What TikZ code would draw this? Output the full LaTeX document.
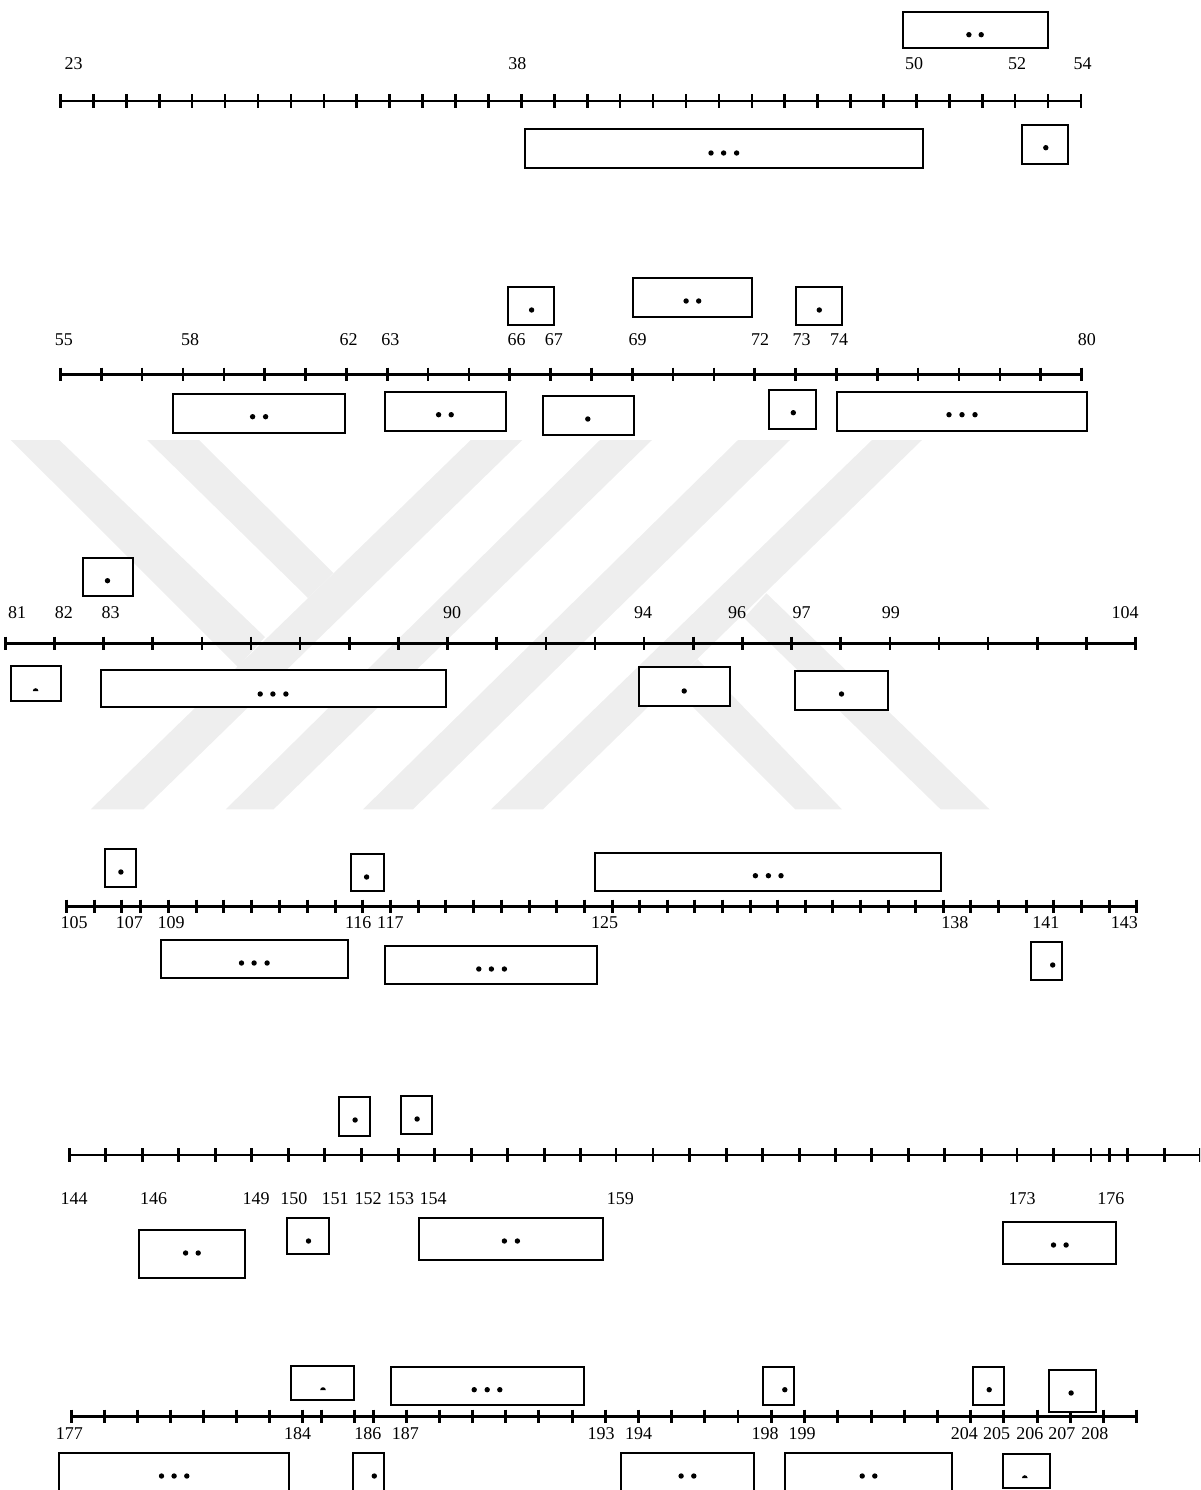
\documentclass[tikz,border=0pt]{standalone}
\usepackage{fontspec}
\setmainfont{Liberation Serif}
\definecolor{markgray}{HTML}{EEEEEE}
\newcommand{\zx}{2.6133}
% ruler: regular ticks
\newcommand{\regrule}[6]{% name, y, x0, step, count, right end
  \coordinate (#1s) at (#3,#2);
  \coordinate (#1e) at (#6,#2);
  \draw[rulerline] (#1s) -- (#1e);
  \foreach \i in {0,...,#5}{\draw[tickline] ({#3+#4*\i},{#2-6.8}) -- ({#3+#4*\i},{#2+6.8});}
}
% ticks read as zoom positions
\newcommand{\tickset}[3]{% y, x offset, list
  \foreach \t in {#3}{\draw[tickline] ({#2+\t/\zx},{#1-6.8}) -- ({#2+\t/\zx},{#1+6.8});}
}
\newcommand{\cell}[5]{% name, x1,y1,x2,y2
  \path[cellline] (#2,#3) rectangle (#4,#5);
  \coordinate (#1) at ({(#2+#4)/2},{(#3+#5)/2});
}
\newcommand{\spot}[2]{\fill (#1,#2) circle[radius=2.7];}
\newcommand{\dome}[2]{\fill ({#1-2.8},#2) arc[start angle=180,end angle=360,radius=2.8] -- cycle;}
\newcommand{\lab}[3]{\node[numlabel] (n#3) at (#1,#2) {#3};}
\begin{document}
\begin{tikzpicture}[x=1pt,y=-1pt,
  rulerline/.style={line width=2.9pt,black},
  tickline/.style={line width=2.6pt,black},
  cellline/.style={draw=black,fill=white,line width=2pt},
  numlabel/.style={font=\fontsize{18}{20}\selectfont,inner sep=0pt,text=black}]
\useasboundingbox (0,0) rectangle (1200,1490);
\clip (0,0) rectangle (1200,1490);
% watermark
\fill[markgray] (470.7,440)--(522.4,440)--(143.5,809.3)--(90.7,809.3)--cycle;
\fill[markgray] (600,440)--(652,440)--(273.6,809.3)--(225.8,809.3)--cycle;
\fill[markgray] (738,440)--(790,440)--(413,809.3)--(363,809.3)--cycle;
\fill[markgray] (872,440)--(922,440)--(543,809.3)--(491,809.3)--cycle;
\fill[markgray] (10.7,440)--(59.3,440)--(265,637)--(238,667)--cycle;
\fill[markgray] (147,440)--(199,440)--(333.5,573)--(308,598)--cycle;
\fill[markgray] (766.5,593.3)--(989.6,809.3)--(940.6,809.3)--(744,618)--cycle;
\fill[markgray] (697.6,659.3)--(841.9,809.3)--(795.2,809.3)--(670.7,684.8)--cycle;
% rulers
\regrule{ra}{101}{60.5}{32.92}{31}{1081}
\regrule{rb}{374.3}{60.5}{40.84}{25}{1081}
\regrule{rc}{643.3}{5.3}{49.14}{23}{1136.5}
\coordinate (rds) at (66.6,906.3);\coordinate (rde) at (1136.5,906.3);
\draw[rulerline] (rds) -- (rde);
\tickset{906.3}{0}{174,247,317,367,440,513,584,657,730,804,877,947,1021,1094,1164,1237,1311,1384,1454,1527}
\tickset{906.3}{600}{33,103,176,247,320,393,464,537,608,681,754,825,897,968,1041,1115,1185,1258,1332,1402}
\coordinate (res) at (69.6,1155);\coordinate (ree) at (1200,1155);
\draw[rulerline] (res) -- (ree);
\tickset{1155}{0}{182,276,372,466,563,657,754,848,945,1041,1135,1232,1326,1423,1517}
\tickset{1155}{600}{42,139,234,331,425,521,615,710,806,900,997,1090,1185,1283,1332,1378,1475,1568}
\coordinate (rfs) at (71.6,1416.3);\coordinate (rfe) at (1136.5,1416.3);
\draw[rulerline] (rfs) -- (rfe);
\tickset{1416.3}{0}{187,273,359,445,532,618,704,790,840,926,976,1062,1148,1235,1321,1407,1496}
\tickset{1416.3}{600}{14,101,187,273,361,448,534,621,710,796,882,968,1054,1143,1230,1316,1402}
% labels
\lab{73.5}{64}{23}\lab{517.4}{64}{38}\lab{914.2}{64}{50}\lab{1017}{64}{52}\lab{1082.6}{64}{54}
\lab{63.9}{339.3}{55}\lab{190.2}{339.3}{58}\lab{348.6}{339.3}{62}\lab{390.4}{339.3}{63}\lab{516.6}{339.3}{66}\lab{553.8}{339.3}{67}\lab{637.5}{339.3}{69}\lab{760}{339.3}{72}\lab{801.7}{339.3}{73}\lab{839.2}{339.3}{74}\lab{1086.8}{339.3}{80}
\lab{17.2}{612.3}{81}\lab{63.9}{612.3}{82}\lab{110.6}{612.3}{83}\lab{452}{612.3}{90}\lab{643.2}{612.3}{94}\lab{737}{612.3}{96}\lab{801.7}{612.3}{97}\lab{890.9}{612.3}{99}\lab{1125}{612.3}{104}
\lab{74.2}{923}{105}\lab{129.4}{923}{107}\lab{171}{923}{109}\lab{358.2}{923}{116}\lab{390.4}{923}{117}\lab{604.5}{923}{125}\lab{954.8}{923}{138}\lab{1045.8}{923}{141}\lab{1124.3}{923}{143}
\lab{74.2}{1198.3}{144}\lab{153.5}{1198.3}{146}\lab{256}{1198.3}{149}\lab{293.9}{1198.3}{150}\lab{335.2}{1198.3}{151}\lab{368.2}{1198.3}{152}\lab{400.7}{1198.3}{153}\lab{433.2}{1198.3}{154}\lab{620.3}{1198.3}{159}\lab{1022}{1198.3}{173}\lab{1110.9}{1198.3}{176}
\lab{69.3}{1433.3}{177}\lab{297.7}{1433.3}{184}\lab{367.8}{1433.3}{186}\lab{405.3}{1433.3}{187}\lab{601}{1433.3}{193}\lab{638.7}{1433.3}{194}\lab{765}{1433.3}{198}\lab{802}{1433.3}{199}\lab{964.3}{1433.3}{204}\lab{996.5}{1433.3}{205}\lab{1029.8}{1433.3}{206}\lab{1061.9}{1433.3}{207}\lab{1094.8}{1433.3}{208}
% cells, row 1
\cell{a1}{903.1}{11.7}{1047.8}{48.3}\spot{968.9}{34.7}\spot{981.2}{34.7}
\cell{a2}{525.4}{129.3}{922.6}{167.7}\spot{711}{153}\spot{723.6}{153}\spot{736.6}{153}
\cell{a3}{1021.7}{125.3}{1067.7}{164}\spot{1045.8}{147.7}
% row 2
\cell{b1}{507.8}{286.7}{553.8}{325}\spot{531.6}{310}
\cell{b2}{633.3}{278.3}{751.9}{316.7}\spot{686.1}{301}\spot{698.7}{301}
\cell{b3}{795.6}{286.7}{841.9}{325.3}\spot{819.3}{310}
\cell{b4}{173.4}{394.3}{345.2}{432.7}\spot{252.6}{416.7}\spot{265.6}{416.7}
\cell{b5}{384.6}{392.3}{505.5}{430.7}\spot{438.6}{414.7}\spot{451.2}{414.7}
\cell{b6}{543}{396.3}{633.7}{434.7}\spot{587.8}{419}
\cell{b7}{769.2}{390}{815.8}{428.7}\spot{793.3}{412.7}
\cell{b8}{837.3}{392.3}{1087.2}{430.7}\spot{949}{414.7}\spot{962}{414.7}\spot{975}{414.7}
% row 3
\cell{c1}{82.7}{558}{133.2}{596.3}\spot{107.5}{580.7}
\cell{c2}{10.7}{666.3}{61.2}{700.7}\dome{35.6}{691}
\cell{c3}{100.6}{670.3}{445.5}{706.7}\spot{260.2}{694}\spot{272.9}{694}\spot{285.9}{694}
\cell{c4}{639}{667.3}{729.7}{706}\spot{684.2}{691}
\cell{c5}{795.2}{671.3}{887.8}{710}\spot{841.5}{694}
% row 4
\cell{d1}{104.9}{848.7}{135.5}{887.3}\spot{120.9}{872}
\cell{d2}{351.3}{853.7}{383.8}{890.7}\spot{366.6}{877}
\cell{d3}{595.1}{852.7}{941.4}{891.3}\spot{755.4}{875.7}\spot{768.4}{875.7}\spot{781}{875.7}
\cell{d4}{161.1}{939.7}{347.5}{978}\spot{241.5}{963}\spot{254.1}{963}\spot{267.1}{963}
\cell{d5}{385}{946}{597.4}{984.3}\spot{478.8}{969}\spot{491.4}{969}\spot{504.4}{969}
\cell{d6}{1031.3}{941.7}{1062.3}{980.3}\spot{1052.7}{965}
% row 5
\cell{e1}{338.7}{1097}{369.7}{1135.7}\spot{355.1}{1120}
\cell{e2}{401.1}{1095.7}{432.1}{1134}\spot{417.1}{1119}
\cell{e3}{138.9}{1229.7}{245.3}{1277.7}\spot{185.6}{1253}\spot{198.2}{1253}
\cell{e4}{287}{1217.7}{328.7}{1254}\spot{308.5}{1241}
\cell{e5}{419}{1217.7}{603}{1259.7}\spot{504.4}{1241}\spot{517.4}{1241}
\cell{e6}{1003.4}{1221.7}{1115.9}{1263.7}\spot{1053.5}{1245}\spot{1066.1}{1245}
% row 6
\cell{f1}{290.9}{1365.7}{353.6}{1400}\dome{323}{1390}
\cell{f2}{391.1}{1366.7}{584}{1405}\spot{474.2}{1389.7}\spot{487.2}{1389.7}\spot{499.8}{1389.7}
\cell{f3}{763}{1366.7}{794.4}{1405}\spot{784.8}{1389.7}
\cell{f4}{972.7}{1366.7}{1003.7}{1405}\spot{989.2}{1389.7}
\cell{f5}{1049.3}{1369.7}{1096}{1412}\spot{1071.1}{1393}
\cell{f6}{58.9}{1453}{289.3}{1500}\spot{161.5}{1476}\spot{174.1}{1476}\spot{186.8}{1476}
\cell{f7}{352.9}{1453}{383.5}{1500}\spot{374.3}{1476}
\cell{f8}{620.7}{1453}{753.5}{1500}\spot{681.1}{1476}\spot{693.8}{1476}
\cell{f9}{785.2}{1453}{951.7}{1500}\spot{862.2}{1476}\spot{874.8}{1476}
\cell{f10}{1003.4}{1453.7}{1050.4}{1488}\dome{1024.8}{1478}
\end{tikzpicture}
\end{document}
